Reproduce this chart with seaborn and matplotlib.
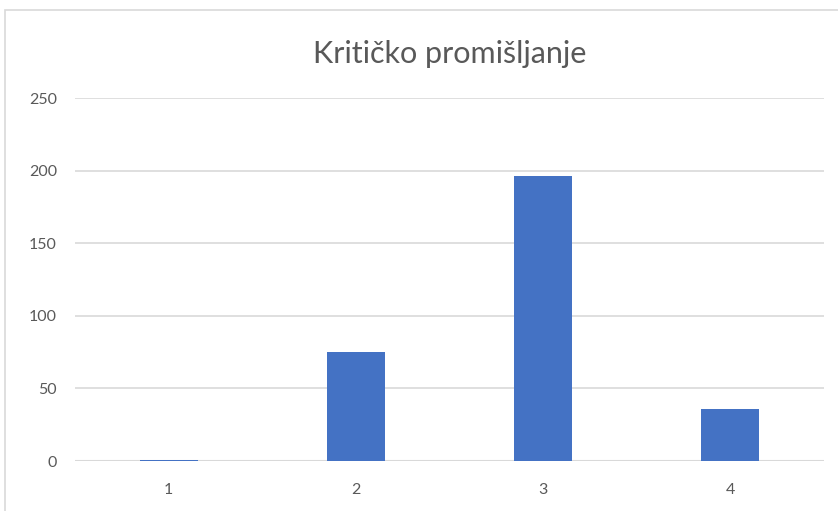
import seaborn as sns
import matplotlib.pyplot as plt
import matplotlib.patches as mpatches
import pandas as pd

categories = ['1', '2', '3', '4']
values = [1, 75, 196, 36]

sns.set_theme(style='white')
plt.rcParams['font.family'] = ['Lato', 'DejaVu Sans']

df = pd.DataFrame({'ocjena': categories, 'broj': values})

fig = plt.figure(figsize=(8.38, 5.11), dpi=100)
ax = fig.add_axes([75 / 838, 0.0978, 749 / 838, 0.7103])
ax.axhline(0, color='#D9D9D9', linewidth=1.5, zorder=0)
sns.barplot(data=df, x='ocjena', y='broj', color='#4472C4', width=0.31,
            saturation=1, ax=ax, zorder=3, linewidth=0)

ax.set_ylim(0, 250)
ax.set_yticks(range(0, 251, 50))
ax.set_xlim(-0.5, 3.5)
ax.yaxis.grid(True, color='#D9D9D9', linewidth=1.2)
ax.set_axisbelow(True)
for s in ax.spines.values():
    s.set_visible(False)
ax.tick_params(axis='both', colors='#595959', labelsize=11.5, length=0)
ax.tick_params(axis='y', pad=13)
ax.tick_params(axis='x', pad=16)
ax.set_xlabel('')
ax.set_ylabel('')
ax.set_title('Kritičko promišljanje', fontsize=22, color='#595959', pad=25)

fig.patches.append(mpatches.Rectangle((5 / 838, -0.1), 1.1, 1 - 10 / 511 + 0.1,
                                      transform=fig.transFigure, fill=False,
                                      edgecolor='#D9D9D9', linewidth=1.2))

fig.savefig('out.png', dpi=100)
